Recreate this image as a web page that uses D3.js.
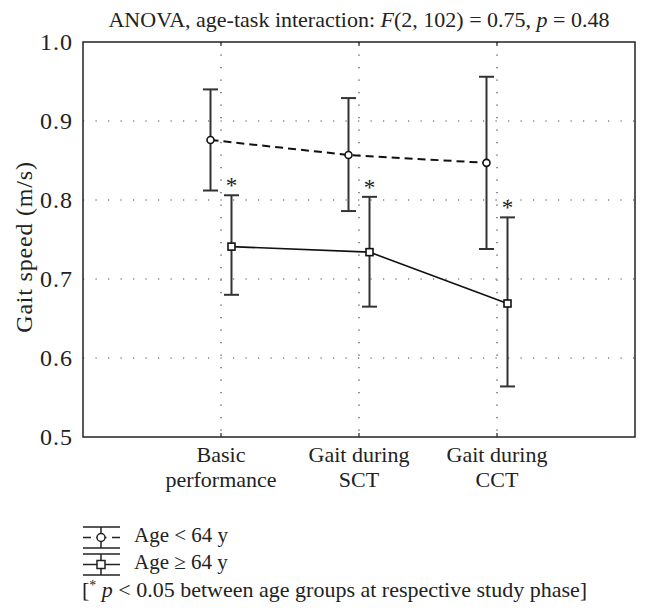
<html>
<head>
  <script src="https://d3js.org/d3.v7.min.js"></script>
  <style>
    body { margin: 0; background: #fff; }
    text { font-family: "Liberation Serif", "DejaVu Serif", serif; fill: #222; }
  </style>
</head>
<body>
  <svg id="chart" width="648" height="616"></svg>
  <script>
    // data
    const phases = ["Basic performance", "Gait during SCT", "Gait during CCT"];
    const phaseLines = [["Basic", "performance"], ["Gait during", "SCT"], ["Gait during", "CCT"]];
    const youngMean = [0.876, 0.857, 0.847];
    const youngLow = [0.812, 0.786, 0.738];
    const youngHigh = [0.940, 0.929, 0.956];
    const oldMean = [0.741, 0.734, 0.669];
    const oldLow = [0.680, 0.665, 0.564];
    const oldHigh = [0.806, 0.804, 0.778];
    const significant = [true, true, true];
    const yTicks = [0.5, 0.6, 0.7, 0.8, 0.9, 1.0];

    const svg = d3.select("svg#chart");
    const margin = { top: 42, right: 13, bottom: 179, left: 83 };
    const width = 648 - margin.left - margin.right;
    const height = 616 - margin.top - margin.bottom;
    const g = svg.append("g")
      .attr("transform", "translate(" + margin.left + "," + margin.top + ")");

    const x = d3.scalePoint().domain(phases).range([0, width]).padding(1);
    const y = d3.scaleLinear().domain([0.5, 1.0]).range([height, 0]);
    const off = 10.5;

    // dotted grid
    g.selectAll(".hgrid")
      .data(yTicks.slice(1, -1))
      .join("line")
      .attr("x1", 0).attr("x2", width)
      .attr("y1", d => y(d)).attr("y2", d => y(d))
      .attr("stroke", "#444").attr("stroke-width", 1.2)
      .attr("stroke-dasharray", "1.2,11.3");
    g.selectAll(".vgrid")
      .data(phases)
      .join("line")
      .attr("x1", d => x(d)).attr("x2", d => x(d))
      .attr("y1", 0).attr("y2", height)
      .attr("stroke", "#444").attr("stroke-width", 1.2)
      .attr("stroke-dasharray", "1.2,11.3");

    // frame
    g.append("rect")
      .attr("width", width).attr("height", height)
      .attr("fill", "none").attr("stroke", "#222").attr("stroke-width", 1.5);

    // inner ticks on x
    phases.forEach(p => {
      g.append("line").attr("x1", x(p)).attr("x2", x(p)).attr("y1", height).attr("y2", height - 4)
        .attr("stroke", "#222").attr("stroke-width", 1.2);
      g.append("line").attr("x1", x(p)).attr("x2", x(p)).attr("y1", 0).attr("y2", 4)
        .attr("stroke", "#222").attr("stroke-width", 1.2);
    });

    // y tick labels
    g.selectAll(".ylab")
      .data(yTicks)
      .join("text")
      .attr("x", -10)
      .attr("y", d => y(d))
      .attr("dy", "0.35em")
      .attr("text-anchor", "end")
      .style("font-size", "24px")
      .style("letter-spacing", "1px")
      .text(d => d.toFixed(1));

    // x labels
    phases.forEach((p, i) => {
      const t = g.append("text")
        .attr("x", x(p))
        .attr("y", height + 25)
        .attr("text-anchor", "middle")
        .style("font-size", "22px");
      phaseLines[i].forEach((s, j) => {
        t.append("tspan").attr("x", x(p)).attr("dy", j === 0 ? 0 : 25).text(s);
      });
    });

    // y axis title
    svg.append("text")
      .attr("transform", "translate(32,247) rotate(-90)")
      .attr("text-anchor", "middle")
      .style("font-size", "24px")
      .style("letter-spacing", "0.8px")
      .text("Gait speed (m/s)");

    // title
    const title = svg.append("text")
      .attr("x", margin.left + width / 2)
      .attr("y", 27)
      .attr("text-anchor", "middle")
      .style("font-size", "22px");
    title.append("tspan").text("ANOVA, age-task interaction: ");
    title.append("tspan").style("font-style", "italic").text("F");
    title.append("tspan").text("(2, 102) = 0.75, ");
    title.append("tspan").style("font-style", "italic").text("p");
    title.append("tspan").text(" = 0.48");

    // error bars
    function errorBars(lo, hi, dx) {
      phases.forEach((p, i) => {
        const cx = x(p) + dx;
        g.append("line").attr("x1", cx).attr("x2", cx).attr("y1", y(lo[i])).attr("y2", y(hi[i]))
          .attr("stroke", "#333").attr("stroke-width", 2);
        [lo[i], hi[i]].forEach(v => {
          g.append("line").attr("x1", cx - 7.5).attr("x2", cx + 7.5).attr("y1", y(v)).attr("y2", y(v))
            .attr("stroke", "#333").attr("stroke-width", 2);
        });
      });
    }
    errorBars(youngLow, youngHigh, -off);
    errorBars(oldLow, oldHigh, off);

    g.append("path")
      .datum(youngMean)
      .attr("d", d3.line().x((d, i) => x(phases[i]) - off).y(d => y(d)))
      .attr("fill", "none").attr("stroke", "#111").attr("stroke-width", 2)
      .attr("stroke-dasharray", "8,5");
    g.append("path")
      .datum(oldMean)
      .attr("d", d3.line().x((d, i) => x(phases[i]) + off).y(d => y(d)))
      .attr("fill", "none").attr("stroke", "#111").attr("stroke-width", 1.6);

    g.selectAll(".ycircle")
      .data(youngMean)
      .join("circle")
      .attr("cx", (d, i) => x(phases[i]) - off)
      .attr("cy", d => y(d))
      .attr("r", 3.5)
      .attr("fill", "#fff").attr("stroke", "#111").attr("stroke-width", 1.6);
    g.selectAll(".osquare")
      .data(oldMean)
      .join("rect")
      .attr("x", (d, i) => x(phases[i]) + off - 3.5)
      .attr("y", d => y(d) - 3.5)
      .attr("width", 7).attr("height", 7)
      .attr("fill", "#fff").attr("stroke", "#111").attr("stroke-width", 1.6);

    // asterisks
    g.selectAll(".star")
      .data(oldHigh)
      .join("text")
      .attr("x", (d, i) => x(phases[i]) + off)
      .attr("y", d => y(d) - 2)
      .attr("text-anchor", "middle")
      .style("font-size", "23px")
      .text((d, i) => significant[i] ? "*" : "");

    // legend
    const legend = svg.append("g");
    function legendSymbol(yc, dashed, circle) {
      const x0 = 83, x1 = 120, xc = 101;
      legend.append("line").attr("x1", x0).attr("x2", x1).attr("y1", yc - 10.5).attr("y2", yc - 10.5)
        .attr("stroke", "#222").attr("stroke-width", 1.5);
      legend.append("line").attr("x1", x0).attr("x2", x1).attr("y1", yc + 10.5).attr("y2", yc + 10.5)
        .attr("stroke", "#222").attr("stroke-width", 1.5);
      legend.append("line").attr("x1", xc).attr("x2", xc).attr("y1", yc - 10.5).attr("y2", yc + 10.5)
        .attr("stroke", "#222").attr("stroke-width", 1.5);
      legend.append("line").attr("x1", x0).attr("x2", x1).attr("y1", yc).attr("y2", yc)
        .attr("stroke", "#222").attr("stroke-width", 1.5)
        .attr("stroke-dasharray", dashed ? "8,5.5,10,5.5,8" : null);
      if (circle) {
        legend.append("circle").attr("cx", xc).attr("cy", yc).attr("r", 4)
          .attr("fill", "#fff").attr("stroke", "#222").attr("stroke-width", 1.5);
      } else {
        legend.append("rect").attr("x", xc - 4).attr("y", yc - 4).attr("width", 8).attr("height", 8)
          .attr("fill", "#fff").attr("stroke", "#222").attr("stroke-width", 1.5);
      }
    }
    legendSymbol(537.5, true, true);
    legendSymbol(564.5, false, false);
    legend.append("text").attr("x", 134).attr("y", 542).style("font-size", "21px").text("Age < 64 y");
    legend.append("text").attr("x", 134).attr("y", 569).style("font-size", "21px").text("Age \u2265 64 y");
    const foot = legend.append("text").attr("x", 82).attr("y", 597).style("font-size", "22px");
    foot.append("tspan").text("[");
    foot.append("tspan").attr("dy", -7).style("font-size", "14px").text("*");
    foot.append("tspan").attr("dy", 7).text(" ");
    foot.append("tspan").style("font-style", "italic").text("p");
    foot.append("tspan").text(" < 0.05 between age groups at respective study phase]");
  </script>
</body>
</html>
